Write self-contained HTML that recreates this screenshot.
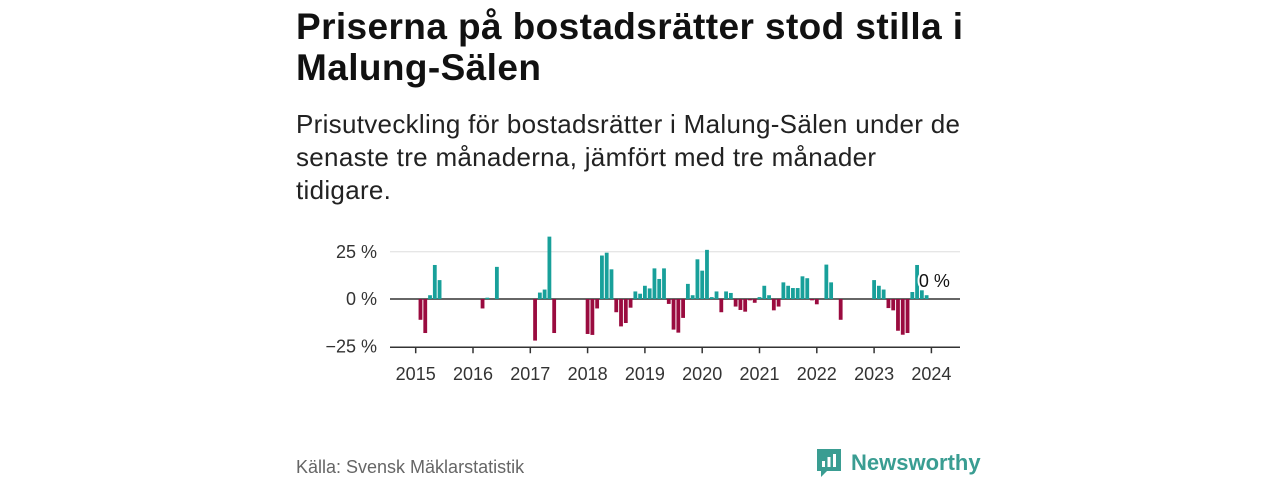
<!DOCTYPE html>
<html><head><meta charset="utf-8">
<style>
body{margin:0;width:1280px;height:480px;background:#fff;font-family:"Liberation Sans","DejaVu Sans",sans-serif;color:#111;position:relative;overflow:hidden}
#title{position:absolute;left:296px;top:6px;width:760px;font-size:37px;letter-spacing:0.4px;font-weight:bold;line-height:41px;margin:0}
#sub{position:absolute;left:296px;top:108px;width:760px;font-size:26px;letter-spacing:0.3px;line-height:33px;margin:0;color:#222}
#src{position:absolute;left:296px;top:457px;font-size:18px;color:#666}
#logo{position:absolute;left:815px;top:447px;display:flex;align-items:center}
#logo span{font-size:22px;font-weight:bold;color:#3a9d92;margin-left:8px}
svg{position:absolute;left:0;top:0}
</style></head><body>
<h1 id="title">Priserna på bostadsrätter stod stilla i<br>Malung-Sälen</h1>
<p id="sub">Prisutveckling för bostadsrätter i Malung-Sälen under de<br>senaste tre månaderna, jämfört med tre månader<br>tidigare.</p>
<div id="src">Källa: Svensk Mäklarstatistik</div>
<div id="logo">
<svg style="position:static" width="28" height="32" viewBox="0 0 28 32"><path d="M2 2h24v22H12l-6 6v-6H2z" fill="#3a9d92"/><rect x="7" y="14" width="3" height="6" fill="#fff"/><rect x="12.5" y="10" width="3" height="10" fill="#fff"/><rect x="18" y="7" width="3" height="13" fill="#fff"/></svg>
<span>Newsworthy</span></div>
<svg id="chart" width="1280" height="480"></svg>
<script>
const years=[2015,2016,2017,2018,2019,2020,2021,2022,2023,2024];
const yTicks=[25,0,-25];
const yTickLabels=["25 %","0 %","−25 %"];
const v2015=[0,-11,-18,2,18,10,0,0,0,0,0,0];
const v2016=[0,0,-5,0.7,0,17,0,0,0,0,0,0];
const v2017=[0,-22,3.4,5,33,-18,0,0,0,0,0,0];
const v2018=[-18.5,-19,-5,23,24.5,15.7,-7,-14.5,-12.7,-4.6,4,2.8];
const v2019=[7,5.6,16.2,10.6,16.2,-2.6,-16.2,-17.8,-10,8,2,21];
const v2020=[15,26,1,4,-7,4,3.2,-4,-5.8,-6.7,-0.7,-2];
const v2021=[1,7,2,-6,-4,8.8,7,5.8,5.8,12,11,-0.7];
const v2022=[-2.8,0,18.2,8.8,0,-11,0,0,0,0,0,0];
const v2023=[10,7,5,-4.8,-6,-16.8,-18.9,-18,3.7,18,4.6,2];
const v2024=[0];
const series=[v2015,v2016,v2017,v2018,v2019,v2020,v2021,v2022,v2023,v2024];
const NS="http://www.w3.org/2000/svg";
const svg=document.getElementById('chart');
const X0=390,X1=960;
const x=t=>415.7+(t-2015)*57.3;
const y=v=>299-v*1.89;
function mk(tag,attrs){const e=document.createElementNS(NS,tag);for(const k in attrs)e.setAttribute(k,attrs[k]);svg.appendChild(e);return e;}
yTicks.forEach((t,i)=>{
  if(t>-25){const g=mk('line',{x1:X0,x2:X1,y1:y(t),y2:y(t),stroke:t===0?'#333':'#ddd','stroke-width':t===0?1.5:1});
  
  }
  const l=mk('text',{x:377,y:y(t)+6,'text-anchor':'end','font-size':18,fill:'#333'});
  l.textContent=yTickLabels[i];
  
  
});
const ax=mk('line',{x1:X0,x2:X1,y1:y(-25)+1,y2:y(-25)+1,stroke:'#333','stroke-width':1.5});


years.forEach(yr=>{
  const tk=mk('line',{x1:x(yr),x2:x(yr),y1:y(-25)+1,y2:y(-25)+7,stroke:'#333','stroke-width':1.5});
  
  
  const l=mk('text',{x:x(yr),y:380,'text-anchor':'middle','font-size':18,fill:'#333'});
  l.textContent=yr;
  
  
});
series.forEach((arr,i)=>{arr.forEach((v,m)=>{
  if(v===0)return;
  const cx=x(years[i]+m/12);
  const r=mk('rect',{x:cx-1.9,width:3.8,y:Math.min(y(v),y(0)),height:Math.abs(y(v)-y(0)),fill:v>0?'#18a09a':'#9a0b3f'});
  
  
});});
const lastVal=v2024[v2024.length-1];
const lb=mk('text',{x:x(2024)+3,y:287,'text-anchor':'middle','font-size':18,fill:'#111',stroke:'#fff','stroke-width':4,'paint-order':'stroke'});
lb.textContent=lastVal+' %';


</script>
</body></html>
